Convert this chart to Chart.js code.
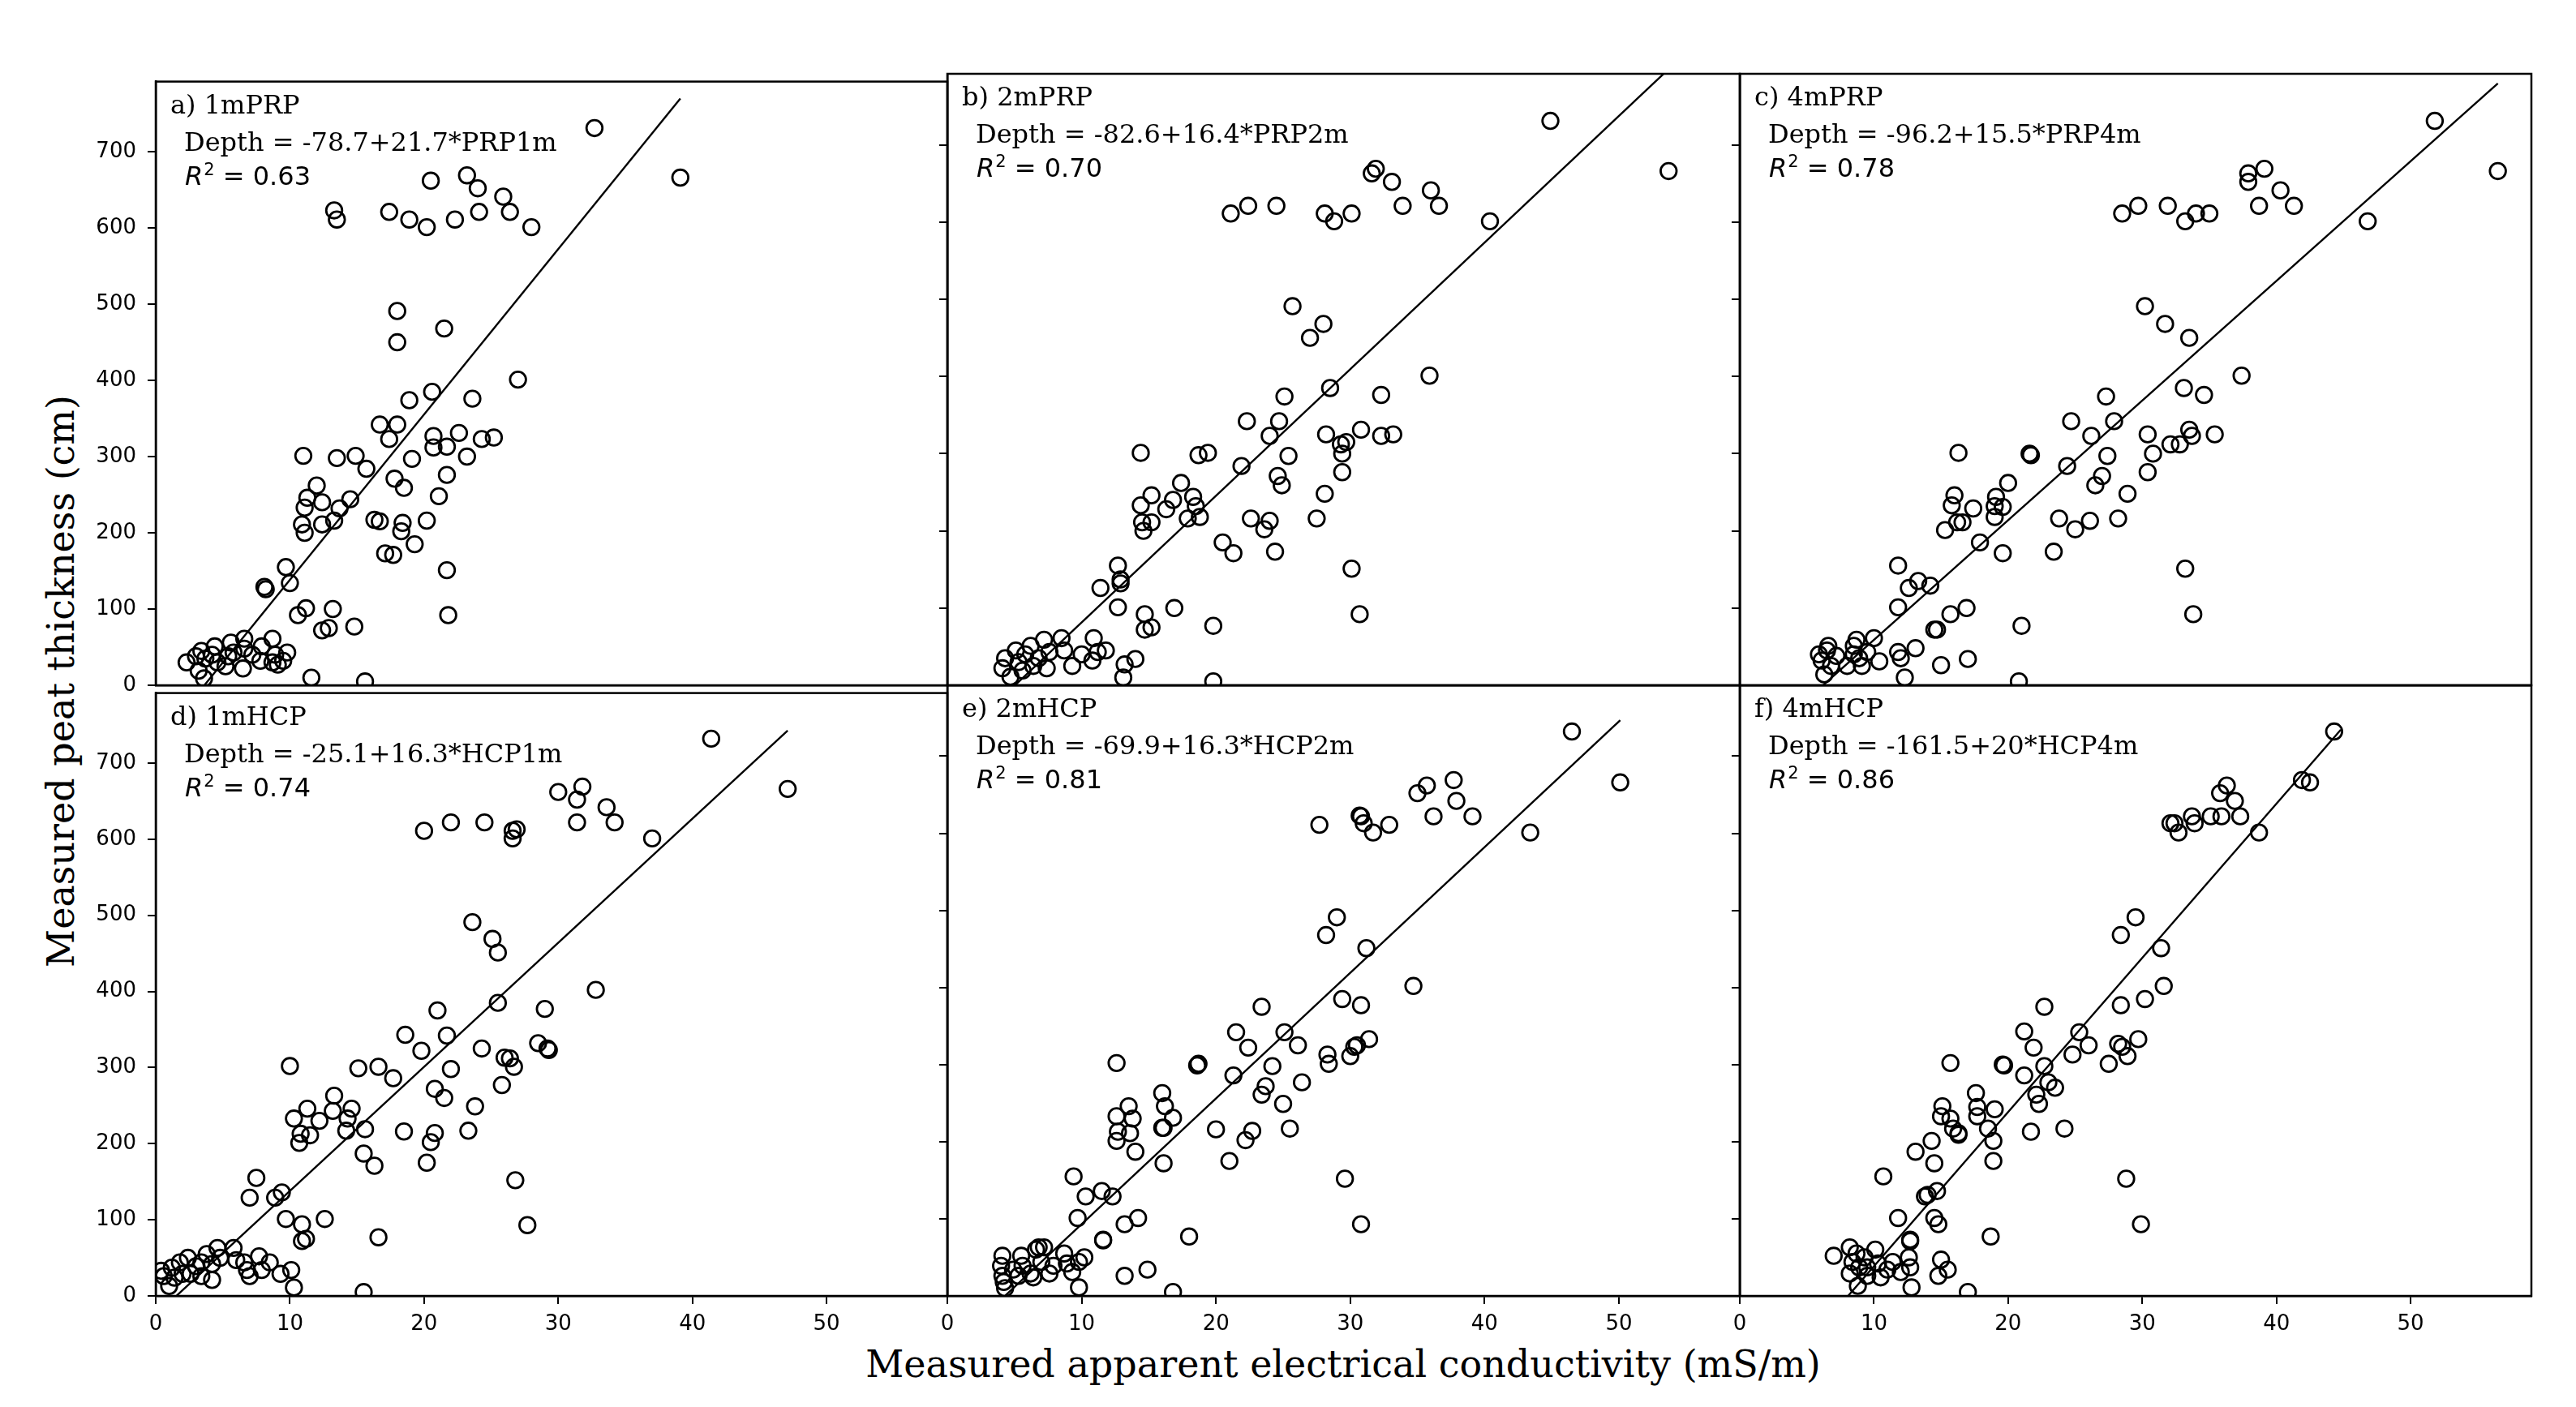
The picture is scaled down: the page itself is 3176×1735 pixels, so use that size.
<!DOCTYPE html>
<html><head><meta charset="utf-8">
<script src="https://cdn.jsdelivr.net/npm/chart.js@4.4.1/dist/chart.umd.min.js"></script>
<style>
html,body{margin:0;padding:0;background:#fff;width:3176px;height:1735px;overflow:hidden;position:relative;}
canvas{position:absolute;}
.title{position:absolute;font-family:"DejaVu Serif";color:#000;white-space:nowrap;font-size:46px;line-height:46px;}
#xt{left:1656px;top:1659px;transform:translateX(-50%);}
#yt{left:75px;top:840px;transform:translate(-50%,-50%) rotate(-90deg);}
</style></head><body>
<div id="xt" class="title">Measured apparent electrical conductivity (mS/m)</div>
<div id="yt" class="title">Measured peat thickness (cm)</div>
<script>
// ---- tick labels / axis limits ----
const xTicks = [0, 10, 20, 30, 40, 50];
const yTicks = [0, 100, 200, 300, 400, 500, 600, 700];
const xMax = 59, yMax = 792;

// ---- panel texts ----
const panelNames = ['a) 1mPRP', 'b) 2mPRP', 'c) 4mPRP', 'd) 1mHCP', 'e) 2mHCP', 'f) 4mHCP'];
const equations = ['Depth = -78.7+21.7*PRP1m', 'Depth = -82.6+16.4*PRP2m', 'Depth = -96.2+15.5*PRP4m',
                   'Depth = -25.1+16.3*HCP1m', 'Depth = -69.9+16.3*HCP2m', 'Depth = -161.5+20*HCP4m'];
const r2Values = ['0.63', '0.70', '0.78', '0.74', '0.81', '0.86'];
const intercepts = [-78.7, -82.6, -96.2, -25.1, -69.9, -161.5];
const slopes = [21.7, 16.4, 15.5, 16.3, 16.3, 20];
const lineStartX = [2.3, 4.0, 5.9, 0.4, 4.0, 7.0];
const lineEndX = [39.1, 53.7, 56.5, 47.1, 50.1, 44.8];

// ---- measured points [EC (mS/m), depth (cm)] ----
const pointsPRP1m = [[32.7,731],[39.1,666],[20.5,662],[23.2,669],[24.0,652],[25.9,641],[13.3,623],[13.5,611],[17.4,621],[18.9,611],[20.2,601],[22.3,611],[24.1,621],[26.4,621],[28.0,601],
[18.0,491],[21.5,468],[18.0,450],[27.0,401],[20.6,385],[18.9,374],[23.6,376],[16.7,342],[18.0,342],[17.4,323],[20.7,327],[22.6,331],[24.3,323],[25.2,325],[20.7,312],[21.7,313],
[11.0,301],[13.5,298],[14.9,301],[19.1,297],[23.2,300],[15.7,284],[21.7,276],[17.8,271],[18.5,259],[12.0,262],[11.3,246],[12.4,240],[14.5,244],[11.1,233],[13.7,232],[21.1,248],
[10.9,211],[12.4,211],[13.3,216],[11.1,200],[16.3,217],[16.7,215],[18.4,213],[18.3,202],[20.2,216],[19.3,185],[17.1,173],[17.7,171],[9.7,155],[10.0,134],[8.1,129],[8.2,126],[21.7,151],
[11.2,101],[10.6,92],[13.2,100],[21.8,92],[12.4,72],[12.9,75],[14.8,77],[8.7,61],[11.6,10],[15.6,5],
[2.3,30],[3.0,38],[3.4,45],[3.7,35],[3.6,9],[3.2,19],[4.4,51],[4.6,30],[5.2,25],[5.6,56],[5.8,43],[6.6,61],[6.6,48],[6.5,22],[7.2,40],[7.9,51],[7.8,32],[8.9,40],[9.1,27],[9.5,32],[9.8,43],[8.7,30],[5.4,38],[4.2,40]];

const pointsPRP2m = [[44.9,731],[53.7,666],[31.6,663],[31.9,669],[33.1,652],[36.0,641],[21.1,611],[22.4,621],[24.5,621],[28.1,611],[28.8,601],[30.1,611],[33.9,621],[36.6,621],[40.4,601],
[25.7,491],[28.0,468],[27.0,450],[35.9,401],[28.5,385],[25.1,374],[32.3,376],[22.3,342],[24.7,342],[24.0,323],[28.2,325],[30.8,331],[32.3,323],[33.2,325],[29.3,312],[29.7,315],
[14.4,301],[18.7,298],[19.4,301],[25.4,297],[29.4,300],[21.9,284],[29.4,276],[24.6,271],[24.9,259],[17.4,262],[15.2,246],[16.8,240],[18.3,244],[14.4,233],[18.5,232],[28.1,248],
[14.5,211],[15.2,211],[16.3,228],[14.6,200],[22.6,216],[17.9,216],[18.8,218],[24.0,213],[23.6,202],[27.5,216],[20.5,185],[21.3,171],[24.4,173],[12.7,155],[12.9,132],[11.4,126],[12.9,137],[30.1,151],
[12.7,101],[14.7,92],[16.9,100],[30.7,92],[14.7,72],[15.2,75],[19.8,77],[10.9,61],[14.0,34],[13.2,27],[13.1,10],[19.8,5],
[4.1,22],[4.3,35],[4.7,11],[5.1,45],[5.3,30],[5.8,40],[6.2,51],[6.4,25],[7.2,59],[7.4,22],[7.6,43],[8.5,61],[8.7,45],[9.3,25],[10.0,40],[10.8,32],[11.2,43],[11.8,45],[5.6,19],[6.8,35]];

const pointsPRP4m = [[51.8,731],[56.5,666],[39.1,669],[37.9,663],[37.9,652],[40.3,641],[28.5,611],[29.7,621],[31.9,621],[33.2,601],[34.0,611],[35.0,611],[38.7,621],[41.3,621],[46.8,601],
[30.2,491],[31.7,468],[33.5,450],[37.4,401],[33.1,385],[27.3,374],[34.6,376],[24.7,342],[27.9,342],[26.2,323],[30.4,325],[33.5,331],[33.7,323],[35.4,325],[32.1,312],[32.8,312],
[16.3,301],[21.6,300],[21.7,298],[27.4,297],[30.8,300],[24.4,284],[30.4,276],[27.0,271],[26.5,259],[20.0,262],[16.0,246],[17.4,229],[19.1,244],[15.8,233],[19.0,232],[28.9,248],
[16.2,211],[16.6,211],[19.6,231],[15.3,201],[23.8,216],[19.0,218],[26.1,213],[25.0,202],[28.2,216],[17.9,185],[19.6,171],[23.4,173],[11.8,155],[14.2,129],[13.3,135],[12.6,126],[33.2,151],
[11.8,101],[15.7,92],[16.9,100],[33.8,92],[14.5,72],[14.7,72],[21.0,77],[10.0,61],[13.1,48],[17.0,34],[15.0,26],[12.3,10],[20.8,5],[10.4,31],[11.8,43],[12.0,35],
[6.1,32],[6.3,14],[6.5,45],[6.6,51],[6.8,25],[7.2,38],[8.0,25],[8.5,51],[8.7,59],[8.9,35],[9.1,25],[9.5,43],[5.9,40],[8.5,40]];

const pointsHCP1m = [[41.4,732],[47.1,666],[30.0,662],[31.8,669],[31.4,652],[33.6,642],[20.0,611],[22.0,622],[24.5,622],[26.6,611],[26.6,601],[26.9,613],[31.4,622],[34.2,622],[37.0,601],
[23.6,491],[25.1,469],[25.5,451],[32.8,402],[25.5,385],[21.0,375],[29.0,377],[18.6,343],[21.7,342],[19.8,322],[24.3,325],[28.5,332],[29.2,325],[29.3,323],[26.0,313],[26.4,312],
[10.0,302],[15.1,299],[16.6,301],[22.0,298],[26.7,301],[17.7,286],[25.8,277],[20.8,272],[21.5,260],[13.3,263],[11.3,246],[12.2,230],[14.6,246],[10.3,233],[13.2,243],[23.8,249],
[10.8,213],[11.5,211],[14.3,233],[10.7,201],[23.3,217],[14.2,217],[15.6,219],[20.8,214],[20.5,202],[18.5,216],[15.5,187],[20.2,175],[16.3,171],[7.5,155],[9.4,136],[8.9,129],[7.0,129],[26.8,152],
[9.7,101],[10.9,94],[12.6,101],[27.7,93],[10.9,72],[11.2,75],[16.6,77],[5.8,63],[10.1,34],[9.3,29],[10.3,11],[15.5,5],
[0.4,33],[0.6,26],[1.0,13],[1.2,37],[1.8,44],[2.0,29],[2.4,50],[3.0,39],[3.4,44],[3.8,55],[4.2,42],[4.6,63],[4.8,50],[4.2,21],[3.4,26],[6.6,44],[6.8,34],[7.0,26],[7.7,52],[7.9,34],[8.5,44],[6.0,47],[2.6,29],[1.4,24]];

const pointsHCP2m = [[46.5,732],[50.1,666],[35.0,652],[35.7,662],[37.7,669],[37.9,642],[27.7,611],[30.7,623],[30.8,622],[31.0,613],[31.7,601],[32.9,611],[36.2,622],[39.1,622],[43.4,601],
[29.0,491],[28.2,468],[31.2,451],[34.7,402],[29.4,385],[23.4,375],[30.8,377],[21.5,342],[25.1,342],[22.4,322],[26.1,325],[31.4,333],[30.5,325],[30.3,323],[28.3,313],[30.0,311],
[12.6,302],[18.6,299],[18.7,301],[24.2,298],[28.4,301],[21.3,286],[26.4,277],[23.7,272],[25.0,249],[16.0,263],[13.5,246],[13.8,230],[16.2,246],[12.6,233],[16.8,231],[23.4,261],
[12.7,213],[13.6,211],[16.1,218],[12.6,201],[25.5,217],[16.0,218],[20.0,216],[22.7,214],[22.2,202],[14.0,187],[16.1,172],[21.0,175],[9.4,155],[11.5,136],[10.3,129],[12.3,129],[29.6,152],
[9.7,101],[13.2,93],[14.2,101],[30.8,93],[11.6,73],[11.6,72],[18.0,77],[6.8,63],[14.9,34],[13.2,26],[9.8,11],[16.8,5],
[4.1,52],[4.0,39],[4.1,26],[4.3,10],[4.2,18],[4.9,34],[5.5,52],[5.6,39],[6.2,29],[6.6,60],[7.0,44],[7.2,63],[7.6,29],[7.9,39],[8.7,55],[8.9,42],[9.3,31],[9.8,44],[10.2,50],[6.4,24],[5.3,26]];

const pointsHCP4m = [[44.3,732],[41.9,669],[42.5,666],[35.8,652],[36.3,662],[36.9,642],[32.1,613],[32.4,613],[32.7,601],[33.7,622],[33.9,613],[35.1,622],[35.9,622],[37.3,622],[38.7,601],
[29.5,491],[28.4,468],[31.4,451],[31.6,402],[30.2,385],[22.7,375],[28.4,377],[21.2,343],[25.3,342],[21.9,322],[26.0,325],[29.7,333],[28.2,327],[28.5,323],[24.8,313],[28.9,311],
[15.7,302],[19.6,300],[19.7,299],[22.7,298],[27.5,301],[21.2,286],[23.5,270],[22.1,261],[22.3,249],[17.6,263],[15.1,246],[15.7,230],[17.7,245],[15.0,233],[19.0,242],[23.0,277],
[15.9,217],[16.3,211],[17.7,233],[14.3,201],[24.2,217],[18.5,217],[21.7,213],[18.9,201],[16.3,209],[13.1,187],[18.9,175],[14.5,172],[10.7,155],[14.7,136],[13.8,129],[14.0,131],[28.8,152],
[11.8,101],[14.5,101],[14.8,93],[29.9,93],[12.7,73],[12.7,71],[18.7,77],[7.0,52],[15.0,47],[15.5,34],[14.8,26],[12.8,11],[17.0,5],[12.6,50],[12.7,37],
[8.2,63],[8.4,44],[8.2,29],[8.8,13],[8.9,37],[9.3,50],[9.5,26],[10.1,60],[10.3,42],[10.5,24],[11.0,34],[11.4,44],[12.0,31],[9.5,37],[8.7,55]];

const panelPoints = [pointsPRP1m, pointsPRP2m, pointsPRP4m, pointsHCP1m, pointsHCP2m, pointsHCP4m];

// ---- layout (pixels) ----
const colEdges = [192, 1168, 2145, 3121];
const rowEdges = [91, 845, 1598];
const padL = 100, padT = 20, padR = 20, padB = 80;

const panelPlugin = {
  id: 'panelText',
  afterDraw(chart, args, o) {
    const ctx = chart.ctx, a = chart.chartArea;
    ctx.save();
    ctx.strokeStyle = '#000';
    ctx.lineWidth = 2.5;
    ctx.strokeRect(a.left, a.top, a.right - a.left, a.bottom - a.top);
    ctx.fillStyle = '#000';
    ctx.textAlign = 'left';
    ctx.textBaseline = 'alphabetic';
    ctx.font = '32px "DejaVu Serif"';
    ctx.fillText(o.label, a.left + 18, a.top + 39);
    ctx.fillText(o.eq, a.left + 35, a.top + 85);
    let x = a.left + 36;
    const y = a.top + 127;
    ctx.font = 'italic 32px "DejaVu Sans"';
    ctx.fillText('R', x, y);
    x += ctx.measureText('R').width + 1;
    ctx.font = '21px "DejaVu Sans"';
    ctx.fillText('2', x, y - 12);
    x += ctx.measureText('2').width;
    ctx.font = '32px "DejaVu Sans"';
    ctx.fillText(' = ' + o.r2, x, y);
    ctx.restore();
  }
};

for (let i = 0; i < 6; i++) {
  const col = i % 3, row = Math.floor(i / 3);
  const left = colEdges[col], right = colEdges[col + 1];
  const top = rowEdges[row], bottom = rowEdges[row + 1];
  const cv = document.createElement('canvas');
  const w = (right - left) + padL + padR, h = (bottom - top) + padT + padB;
  cv.width = w; cv.height = h;
  cv.style.left = (left - padL) + 'px';
  cv.style.top = (top - padT) + 'px';
  cv.style.width = w + 'px'; cv.style.height = h + 'px';
  document.body.appendChild(cv);

  const showX = row === 1, showY = col === 0;
  const pts = panelPoints[i].map(p => ({x: p[0], y: p[1]}));
  const fit = [lineStartX[i], lineEndX[i]].map(x => ({x: x, y: intercepts[i] + slopes[i] * x}));

  new Chart(cv, {
    type: 'scatter',
    data: {
      datasets: [
        { data: pts, pointStyle: 'circle', pointRadius: 9.8, pointHoverRadius: 9.8,
          pointBorderWidth: 2.8, borderColor: '#000', pointBorderColor: '#000',
          backgroundColor: 'rgba(0,0,0,0)', pointBackgroundColor: 'rgba(0,0,0,0)', clip: 0, order: 2 },
        { data: fit, showLine: true, borderColor: '#000', borderWidth: 2.4, pointRadius: 0,
          pointHoverRadius: 0, fill: false, clip: 0, order: 1 }
      ]
    },
    options: {
      responsive: false, animation: false, devicePixelRatio: 1,
      events: [],
      layout: { padding: { left: 0, top: padT, right: padR, bottom: 0 } },
      plugins: {
        legend: { display: false }, tooltip: { enabled: false },
        panelText: { label: panelNames[i], eq: equations[i], r2: r2Values[i] }
      },
      scales: {
        x: {
          type: 'linear', position: 'bottom', min: 0, max: xMax,
          afterFit: s => { s.height = padB; },
          afterBuildTicks: s => { s.ticks = xTicks.map(v => ({ value: v })); },
          grid: { drawOnChartArea: false, drawTicks: showX, tickLength: 10, lineWidth: 2, tickWidth: 2, color: '#000', tickColor: '#000' },
          border: { display: true, color: '#000', width: 2.5 },
          ticks: { display: showX, color: '#000', padding: 10, maxRotation: 0, autoSkip: false,
                   font: { family: 'DejaVu Sans', size: 26 } }
        },
        y: {
          type: 'linear', position: 'left', min: 0, max: yMax,
          afterFit: s => { s.width = padL; },
          afterBuildTicks: s => { s.ticks = yTicks.map(v => ({ value: v })); },
          grid: { drawOnChartArea: false, drawTicks: true, tickLength: 10, lineWidth: 2, tickWidth: 2, color: '#000', tickColor: '#000' },
          border: { display: true, color: '#000', width: 2.5 },
          ticks: { display: showY, color: '#000', padding: 14, autoSkip: false,
                   font: { family: 'DejaVu Sans', size: 26 } }
        }
      }
    },
    plugins: [panelPlugin]
  });
}
</script>
</body></html>
